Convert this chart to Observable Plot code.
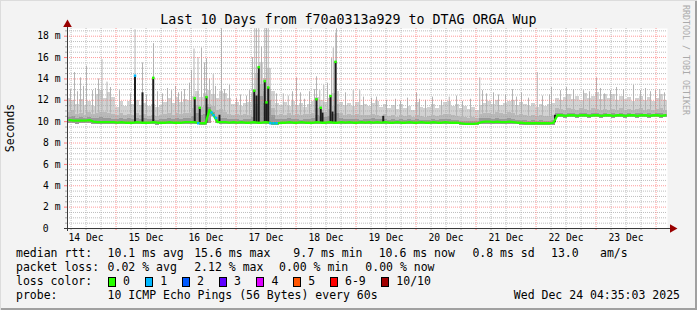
<!DOCTYPE html>
<html><head><meta charset="utf-8">
<script src="https://cdn.jsdelivr.net/npm/d3@7"></script>
<script src="https://cdn.jsdelivr.net/npm/@observablehq/plot@0.6"></script>
<style>
html,body{margin:0;padding:0;background:#f3f3f3;}
#wrap{position:relative;width:697px;height:310px;background:#f3f3f3;overflow:hidden;font-family:"DejaVu Sans Mono",monospace;color:#000;box-shadow:inset 1px 1px 0 #dcdcdc, inset -2px -2px 0 #a0a0a0;}
#wrap .t{position:absolute;white-space:pre;line-height:1;}
#chart{position:absolute;left:0;top:0;}
.sw{position:absolute;box-sizing:border-box;border:1px solid #000;}
</style></head><body>
<div id="wrap"><div id="chart"></div></div>
<script>
// ---------- data ----------
const titleText = "Last 10 Days from f70a0313a929 to DTAG ORGA Wup";
const yLabel = "Seconds";
const watermark = "RRDTOOL / TOBI OETIKER";
const startTime = new Date(Date.UTC(2025, 11, 14, 4, 35, 3));
const endTime = new Date(Date.UTC(2025, 11, 24, 4, 35, 3));
const binHours = 1.6; // one value per 96 minutes, 15 values per day
const ymax = 18.72;

// light smoke upper edge (ms)
const smokeHi = [
 12.2,12.0,11.6,12.1,11.5,11.9,11.4,12.5,12.9,12.2,12.7,12.3,11.3,11.9,11.4,
 11.9,11.6,12.0,11.5,11.7,11.4,11.6,11.3,11.5,11.8,12.2,11.7,12.3,11.8,12.1,
 12.0,12.4,12.8,12.3,12.6,12.9,12.5,12.2,12.8,12.6,12.2,11.6,11.8,11.4,11.7,
 11.8,12.6,14.5,15.5,14.0,15.0,12.8,11.7,11.5,11.8,11.4,11.9,11.5,11.7,11.3,
 11.6,11.9,12.3,12.0,11.8,12.2,12.6,12.8,11.8,11.5,11.7,11.4,11.8,11.5,11.6,
 11.4,11.7,11.9,11.3,11.6,11.2,11.5,11.1,11.6,11.2,11.4,11.0,11.8,11.3,11.2,
 11.3,11.6,11.2,11.5,11.8,11.9,11.4,11.6,11.2,11.4,11.1,11.3,11.0,11.5,11.7,
 11.9,11.6,12.0,11.5,11.7,11.9,12.0,11.5,11.8,11.6,11.4,11.7,11.3,11.6,11.4,
 11.6,11.7,12.2,12.0,12.3,12.5,12.1,12.4,12.0,12.6,12.2,12.4,12.7,12.1,12.5,
 12.2,12.5,12.0,12.4,12.1,12.3,11.9,12.2,12.4,12.0,12.3,11.9,12.2,12.5,12.0];
// medium smoke upper edge
const smokeMid = [
 10.9,11.0,10.7,10.8,10.6,10.9,10.7,10.8,10.9,10.9,10.8,10.7,10.6,10.8,10.6,
 10.7,10.6,10.8,10.6,10.7,10.5,10.6,10.5,10.6,10.7,10.8,10.6,10.8,10.7,10.8,
 10.8,11.2,11.5,11.3,11.4,11.6,11.4,11.0,11.1,10.9,10.7,10.6,10.7,10.6,10.7,
 10.6,11.0,12.5,13.5,12.8,13.0,11.2,10.6,10.7,10.6,10.8,10.6,10.7,10.6,10.7,
 10.7,10.8,11.2,11.0,10.9,11.1,11.4,11.6,10.8,10.6,10.7,10.6,10.7,10.6,10.6,
 10.6,10.7,10.6,10.5,10.7,10.5,10.6,10.4,10.6,10.5,10.6,10.4,10.6,10.5,10.4,
 10.5,10.6,10.5,10.6,10.7,10.7,10.6,10.5,10.4,10.4,10.3,10.4,10.3,10.7,10.8,
 10.8,10.7,10.9,10.8,10.7,10.9,10.8,10.6,10.7,10.6,10.5,10.6,10.5,10.6,10.5,
 10.5,10.6,11.2,11.1,11.0,11.2,11.1,11.0,11.2,11.1,11.0,11.2,11.1,11.0,11.1,
 11.0,11.1,11.0,11.2,11.0,11.1,11.0,11.1,11.2,11.0,11.1,11.0,11.1,11.2,11.0];
// dark smoke upper edge
const smokeDark = [
 10.4,10.5,10.3,10.4,10.3,10.4,10.3,10.3,10.4,10.3,10.3,10.2,10.2,10.3,10.2,
 10.3,10.2,10.3,10.2,10.3,10.2,10.2,10.1,10.2,10.2,10.3,10.2,10.3,10.2,10.3,
 10.3,10.5,10.8,10.6,10.7,11.3,10.9,10.4,10.3,10.3,10.2,10.2,10.2,10.1,10.2,
 10.2,10.4,11.6,12.4,11.7,12.0,10.6,10.2,10.2,10.2,10.3,10.2,10.2,10.1,10.2,
 10.2,10.3,10.6,10.5,10.4,10.5,10.7,10.8,10.3,10.2,10.2,10.2,10.2,10.1,10.2,
 10.2,10.3,10.2,10.2,10.2,10.1,10.2,10.1,10.2,10.1,10.2,10.1,10.2,10.1,10.1,
 10.1,10.2,10.1,10.2,10.2,10.2,10.1,10.1,10.0,10.0,10.0,10.0,10.0,10.3,10.3,
 10.3,10.2,10.3,10.2,10.2,10.3,10.2,10.1,10.1,10.1,10.0,10.1,10.0,10.1,10.0,
 10.0,10.1,10.8,10.8,10.7,10.8,10.8,10.7,10.8,10.8,10.7,10.8,10.8,10.7,10.8,
 10.7,10.8,10.7,10.8,10.7,10.8,10.7,10.8,10.8,10.7,10.8,10.7,10.8,10.8,10.7];
// smoke lower edge
const smokeLo = [
 9.80,9.80,9.75,9.80,9.80,9.80,9.75,9.75,9.75,9.70,9.75,9.70,9.70,9.75,9.70,
 9.70,9.70,9.75,9.70,9.70,9.70,9.70,9.65,9.70,9.70,9.70,9.70,9.70,9.70,9.70,
 9.70,9.70,9.70,9.65,9.65,9.85,10.45,9.85,9.70,9.70,9.70,9.70,9.70,9.70,9.70,
 9.70,9.70,9.70,9.70,9.70,9.70,9.65,9.65,9.70,9.70,9.70,9.70,9.70,9.70,9.70,
 9.70,9.70,9.70,9.70,9.70,9.70,9.70,9.70,9.70,9.70,9.70,9.70,9.70,9.70,9.70,
 9.70,9.70,9.70,9.70,9.70,9.70,9.70,9.70,9.70,9.70,9.70,9.70,9.70,9.70,9.70,
 9.70,9.70,9.70,9.70,9.70,9.70,9.70,9.70,9.65,9.60,9.60,9.60,9.65,9.70,9.75,
 9.75,9.70,9.75,9.70,9.70,9.75,9.70,9.70,9.65,9.65,9.60,9.60,9.60,9.60,9.60,
 9.60,9.65,10.35,10.35,10.30,10.35,10.35,10.30,10.35,10.35,10.30,10.35,10.35,10.30,10.35,
 10.35,10.30,10.35,10.35,10.30,10.35,10.35,10.30,10.35,10.35,10.30,10.35,10.35,10.30,10.35];
// median rtt (ms)
const median = [
 10.15,10.1,10.1,10.1,10.1,10.15,10.0,9.95,9.95,9.95,9.95,9.95,9.9,9.95,9.9,
 9.9,9.9,9.95,9.9,9.9,9.9,9.95,9.9,9.9,9.9,9.95,9.9,9.9,9.9,9.95,
 9.95,9.95,9.9,9.85,9.85,11.1,10.6,9.95,9.95,9.95,9.9,9.95,9.9,9.95,9.9,
 9.9,9.95,9.9,9.9,9.95,9.9,9.85,9.85,9.9,9.9,9.95,9.9,9.9,9.95,9.9,
 9.9,9.9,9.95,9.9,9.9,9.95,9.9,9.9,9.95,9.9,9.95,9.9,9.9,9.95,9.9,
 9.95,9.9,9.95,9.9,9.95,9.9,9.9,9.95,9.9,9.9,9.95,9.9,9.9,9.95,9.9,
 9.9,9.95,9.9,9.9,9.95,9.9,9.9,9.9,9.85,9.8,9.8,9.8,9.85,9.95,10.0,
 10.0,9.95,10.0,9.95,9.95,10.0,9.95,9.9,9.9,9.85,9.85,9.85,9.85,9.85,9.85,
 9.85,9.9,10.6,10.6,10.55,10.6,10.6,10.55,10.6,10.6,10.55,10.6,10.6,10.55,10.6,
 10.6,10.55,10.6,10.6,10.55,10.6,10.6,10.55,10.6,10.6,10.55,10.6,10.6,10.55,10.6];

// thin gray smoke spikes: hours since start, top (ms)
const spikeHours = [1.2,2.8,4.0,5.2,6.4,7.6,10.0,11.2,12.4,13.8,15.8,17.2,20.8,
 25.2,27.0,30.0,31.6,34.4,36.0,38.0,40.0,41.6,43.2,44.4,45.6,46.8,
 48.8,49.6,50.6,52.2,53.6,54.8,55.6,56.8,58.3,59.2,61.6,62.8,64.8,67.6,69.2,71.6,
 72.8,74.0,74.9,75.6,76.5,77.6,78.9,79.6,80.3,83.6,86.3,88.3,90.0,91.6,93.2,94.8,
 96.8,98.8,99.6,100.9,102.5,104.0,105.6,106.3,107.3,107.6,111.2,114.3,116.9,118.4,
 121.6,123.6,127.6,131.2,133.2,136.0,139.6,140.8,143.2,
 146.0,149.6,152.7,155.6,158.0,161.2,164.9,166.0,167.6,
 170.4,172.4,175.2,178.0,179.6,181.6,184.4,187.9,190.0,192.8,193.6,
 197.2,199.6,202.4,206.4,208.8,211.6,213.2,214.8,
 217.2,219.6,222.4,226.4,229.2,231.2,233.2,235.2,236.9,238.8];
const spikeTops = [13.0,14.6,12.8,14.1,13.3,15.2,12.9,13.1,14.0,15.8,13.7,13.2,12.9,
 12.6,18.6,15.5,12.5,17.3,12.8,12.6,13.1,12.9,13.3,12.7,12.8,13.0,
 13.6,14.8,16.8,16.0,16.9,15.5,15.9,14.0,14.4,13.3,18.7,13.0,13.4,12.2,12.5,12.4,
 12.9,16.0,18.7,18.7,18.7,17.0,18.7,18.7,18.7,12.6,12.6,12.4,12.8,14.1,12.7,12.1,
 12.8,13.0,14.2,12.9,13.4,13.6,15.9,16.9,18.3,18.7,12.7,12.9,12.9,12.3,
 12.2,12.3,12.0,12.1,11.9,12.2,12.7,12.1,12.0,
 12.3,12.0,12.3,12.4,11.9,12.1,14.1,12.9,12.6,
 12.7,12.5,12.5,13.0,12.3,12.7,12.2,14.6,12.4,12.5,13.2,
 12.9,13.2,13.0,12.9,12.8,14.1,13.1,12.6,
 12.9,13.2,13.0,13.4,12.9,13.1,12.8,12.9,13.0,12.7];
// dark (tight) smoke bursts: hours since start, top (ms), loss at top
const blackHours = [27.0,30.0,34.3,50.9,52.9,55.6,60.8,74.7,75.6,76.5,78.9,79.6,80.3,99.6,101.3,102.0,105.2,106.0,107.2,126.3,195.0];
const blackTops  = [14.3,12.7,14.1,12.2,11.3,12.3,10.6,12.9,12.4,15.1,13.8,11.8,13.2,12.1,11.3,10.8,12.4,10.9,15.6,10.5,10.6];
const blackLoss  = [1,null,0,0,0,0,null,0,null,0,0,0,0,0,0,null,0,null,0,null,null];
// median samples with 1 lost ping
const lossHours  = [52.3,57.6,58.4,59.4,81.2,82.4,83.6];
const lossValues = [9.85,10.85,10.6,10.35,9.85,9.85,9.85];
const lossCount  = [1,1,1,1,1,1,1];

const lossLabels = ["0","1","2","3","4","5","6-9","10/10"];
const lossColors = ["#26ff00","#00b8ff","#0059ff","#5e00ff","#dd00ff","#ff5500","#ff0000","#a10000"];

const rttValues = [10.1, 15.6, 9.7, 10.6, 0.8];
const rttNames  = ["avg","max","min","now","sd"];
const amPerSec = 13.0;
const lossPctValues = [0.02, 2.12, 0.00, 0.00];
const lossPctNames  = ["avg","max","min","now"];
const probeText = "10 ICMP Echo Pings (56 Bytes) every 60s";
const stampText = "Wed Dec 24 04:35:03 2025";

// ---------- build ----------
const at = h => new Date(+startTime + h * 3600e3);
const bins = smokeHi.map((hi, i) => ({
  a: at(i * binHours), b: at((i + 1) * binHours), c: at((i + 0.5) * binHours),
  hi, mid: smokeMid[i], dark: smokeDark[i], lo: smokeLo[i], med: median[i]
}));
const binOf = h => Math.min(bins.length - 1, Math.floor(h / binHours));
const graySpikes = spikeHours.map((h, i) => ({t: at(h), lo: smokeMid[binOf(h)], hi: spikeTops[i]}));
const blackSpikes = blackHours.map((h, i) => ({t: at(h), lo: median[binOf(h)], hi: blackTops[i], loss: blackLoss[i]}));
const lossPts = lossHours.map((h, i) => ({t: at(h), v: lossValues[i], n: lossCount[i]}));

const minorY = d3.range(0.5, ymax, 0.5).filter(v => v % 2 !== 0);
const majorY = d3.range(2, ymax, 2);
const minorX = d3.utcHour.every(6).range(startTime, endTime).filter(d => d.getUTCHours() !== 0);
const majorX = d3.utcDay.range(startTime, endTime);
const noonX = d3.utcDay.range(d3.utcDay.floor(startTime), endTime).map(d => d3.utcHour.offset(d, 12)).filter(d => d >= startTime && d <= endTime);

const gridMinor = "#a8a8a8", gridMajor = "#ff7a7a", axisColor = "#3a3a3a", arrowColor = "#990000";
const gridOpacity = 0.75;

const chart = Plot.plot({
  width: 697, height: 310,
  marginLeft: 67, marginRight: 30, marginTop: 28, marginBottom: 82,
  x: {type: "utc", domain: [startTime, endTime], label: null},
  y: {domain: [0, ymax], label: null},
  style: {background: "transparent", fontFamily: "DejaVu Sans Mono", fontSize: "9.7px", color: "#000", overflow: "visible"},
  marks: [
    Plot.frame({fill: "#ffffff", stroke: "none"}),
    Plot.rect(bins, {x1: "a", x2: "b", y1: "lo", y2: "hi", fill: "#d2d2d2", shapeRendering: "crispEdges"}),
    Plot.ruleX(graySpikes, {x: "t", y1: "lo", y2: "hi", stroke: "#b4b4b4", strokeWidth: 1}),
    Plot.rect(bins, {x1: "a", x2: "b", y1: "lo", y2: "mid", fill: "#b9b9b9", shapeRendering: "crispEdges"}),
    Plot.rect(bins, {x1: "a", x2: "b", y1: "lo", y2: "dark", fill: "#999999", shapeRendering: "crispEdges"}),
    Plot.gridY(minorY, {stroke: gridMinor, strokeOpacity: gridOpacity, strokeDasharray: "1,1"}),
    Plot.gridX(minorX, {stroke: gridMinor, strokeOpacity: gridOpacity, strokeDasharray: "1,1"}),
    Plot.gridY(majorY, {stroke: gridMajor, strokeOpacity: gridOpacity, strokeDasharray: "1,1"}),
    Plot.gridX(majorX, {stroke: gridMajor, strokeOpacity: gridOpacity, strokeDasharray: "1,1"}),
    Plot.ruleX(blackSpikes, {x: "t", y1: "lo", y2: "hi", stroke: "#1c1c1c", strokeWidth: 2}),
    Plot.line(bins, {x: "c", y: "med", stroke: lossColors[0], strokeWidth: 2.3}),
    Plot.dot(blackSpikes.filter(d => d.loss != null), {x: "t", y: "hi", r: 1.4, symbol: "square", fill: d => lossColors[d.loss], stroke: "none"}),
    Plot.dot(lossPts, {x: "t", y: "v", r: 1.4, symbol: "square", fill: d => lossColors[d.n], stroke: "none"}),
    // axes
    Plot.axisY(minorY, {tickSize: 2, tickFormat: () => "", stroke: gridMinor, label: null}),
    Plot.axisY(majorY, {tickSize: 3, tickPadding: 4, tickFormat: d => `${d} m`, stroke: gridMajor, label: null}),
    Plot.axisY([0], {tickSize: 3, tickPadding: 16, tickFormat: () => "0", stroke: axisColor, label: null}),
    Plot.axisX(minorX, {tickSize: 2, tickFormat: () => "", stroke: gridMinor, label: null}),
    Plot.axisX(majorX, {tickSize: 2, tickFormat: () => "", stroke: gridMajor, label: null}),
    Plot.axisX(noonX, {tickSize: 0, tickPadding: 6, tickFormat: d3.utcFormat("%d %b"), label: null}),
    Plot.ruleY([0], {stroke: axisColor, insetLeft: -3, insetRight: -3}),
    Plot.ruleX([startTime], {stroke: axisColor, insetTop: -2, insetBottom: -3}),
    Plot.dot([{x: endTime, y: 0}], {x: "x", y: "y", symbol: "triangle", r: 3.2, rotate: 90, dx: 5, fill: arrowColor, stroke: "none"}),
    Plot.dot([{x: startTime, y: ymax}], {x: "x", y: "y", symbol: "triangle", r: 3.2, dy: -4, fill: arrowColor, stroke: "none"})
  ]
});
const wrap = document.getElementById("wrap");
document.getElementById("chart").appendChild(chart);

function text(str, x, baseline, opts = {}) {
  const fs = opts.fs || 11.5;
  const el = document.createElement("div");
  el.className = "t";
  el.textContent = str;
  el.style.fontSize = fs + "px";
  el.style.top = (baseline - 0.846 * fs) + "px";
  if (opts.color) el.style.color = opts.color;
  if (opts.anchor === "end") el.style.right = (697 - x) + "px";
  else if (opts.anchor === "middle") { el.style.left = x + "px"; el.style.transform = "translateX(-50%)"; }
  else el.style.left = x + "px";
  wrap.appendChild(el);
  return el;
}
function vtext(str, cx, cy, deg, fs, color) {
  const el = document.createElement("div");
  el.className = "t";
  el.textContent = str;
  el.style.fontSize = fs + "px";
  el.style.left = cx + "px";
  el.style.top = cy + "px";
  if (color) el.style.color = color;
  el.style.transform = `translate(-50%,-50%) rotate(${deg}deg)`;
  wrap.appendChild(el);
}

text(titleText, 348.5, 24, {fs: 13.3, anchor: "middle"});
vtext(yLabel, 10.5, 128, -90, 11.5);
vtext(watermark, 686, 60, 90, 8.3, "#aaaaaa");

const col = [107.6, 194.2, 293.3, 378.7, 472.4];
text("median rtt:", 16, 258);
rttValues.forEach((v, i) => text(`${v.toFixed(1)} ms ${rttNames[i]}`, col[i], 258));
text(amPerSec.toFixed(1), 551, 258);
text("am/s", 600, 258);

const col2 = [107.6, 194.2, 279, 365.3];
text("packet loss:", 16, 272);
lossPctValues.forEach((v, i) => text(`${v.toFixed(2)} % ${lossPctNames[i]}`, col2[i], 272));

text("loss color:", 16, 286);
const swX = [108, 145.3, 182, 219, 256.4, 293.3, 330, 381.3];
lossLabels.forEach((lab, i) => {
  const s = document.createElement("div");
  s.className = "sw";
  s.style.left = swX[i] + "px"; s.style.top = "277px";
  s.style.width = "8px"; s.style.height = "10px";
  s.style.background = lossColors[i];
  wrap.appendChild(s);
  text(lab, swX[i] + 15, 286);
});

text("probe:", 16, 300);
text(probeText, 107.6, 300);
text(stampText, 680, 300, {anchor: "end"});
</script></body></html>
